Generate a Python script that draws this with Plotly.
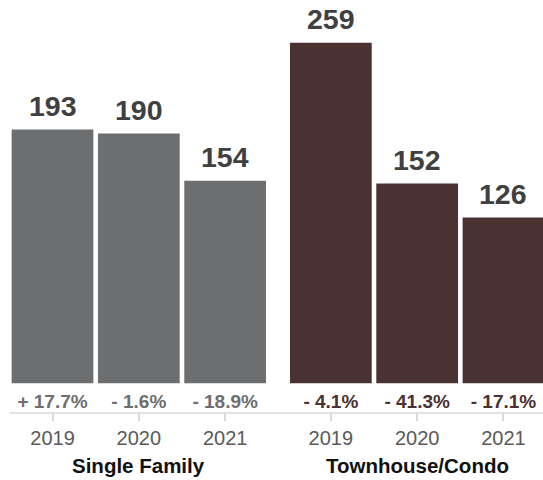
import plotly.graph_objects as go

years = ["2019", "2020", "2021"]
single_family = [193, 190, 154]
townhouse = [259, 152, 126]
sf_change = ["+ 17.7%", "- 1.6%", "- 18.9%"]
th_change = ["- 4.1%", "- 41.3%", "- 17.1%"]
groups = ["Single Family", "Townhouse/Condo"]

SF_COLOR = "#6d6e70"
TH_COLOR = "#4a3132"
FONT = "Liberation Sans, Arial, sans-serif"

W, H = 543, 480
y_min, y_max = -22.6, 291.5
pct_y = -15

fig = go.Figure()
annotations = []
for xa, ya, vals, changes, col, grp in [("x", "y", single_family, sf_change, SF_COLOR, groups[0]),
                                        ("x2", "y2", townhouse, th_change, TH_COLOR, groups[1])]:
    fig.add_trace(go.Bar(x=years, y=vals, marker=dict(color=col, line=dict(width=0)),
                         cliponaxis=False, xaxis=xa, yaxis=ya, hoverinfo="skip"))
    fig.add_trace(go.Scatter(x=years, y=[pct_y] * len(years), mode="text",
                             text=[f"<b>{c}</b>" for c in changes], textposition="middle center",
                             textfont=dict(family=FONT, size=19, color=col),
                             cliponaxis=False, xaxis=xa, yaxis=ya, hoverinfo="skip"))
    for i, v in enumerate(vals):
        annotations.append(dict(x=i, y=v, xref=xa, yref=ya, text=f"<b>{v}</b>", showarrow=False,
                                yshift=23.5, yanchor="middle",
                                font=dict(family=FONT, size=28.5, color="#404040")))
    annotations.append(dict(x=1, y=-0.1283, xref=xa, yref="paper", text=f"<b>{grp}</b>",
                            showarrow=False, yanchor="middle",
                            font=dict(family=FONT, size=20.5, color="#111111")))

axis_common = dict(type="category", showgrid=False, zeroline=False, showline=False,
                   ticks="outside", ticklen=7, tickwidth=1.5, tickcolor="#d9d9d9",
                   tickfont=dict(family=FONT, size=20, color="#5a5a5a"), fixedrange=True)
yaxis_common = dict(range=[y_min, y_max], visible=False, showgrid=False, zeroline=False, fixedrange=True)

left0, left1 = 9.35 / W, 268.3 / W
right0 = 287.7 / W

fig.update_layout(
    width=W, height=H,
    margin=dict(l=0, r=0, t=0, b=67),
    paper_bgcolor="white", plot_bgcolor="white",
    showlegend=False, bargap=0.053,
    xaxis=dict(domain=[left0, left1], range=[-0.5, 2.5], **axis_common),
    xaxis2=dict(domain=[right0, 1], range=[-0.5, 2 + (W - 503.5) / 86.3], **axis_common),
    yaxis=dict(**yaxis_common),
    yaxis2=dict(anchor="x2", **yaxis_common),
    annotations=annotations,
    shapes=[dict(type="line", xref="paper", yref="paper", x0=left0 + 0.5 / W, x1=1, y0=0, y1=0,
                 line=dict(color="#d9d9d9", width=1.5))],
    font=dict(family=FONT),
)

fig.write_html("out.html", config={"displayModeBar": False})
